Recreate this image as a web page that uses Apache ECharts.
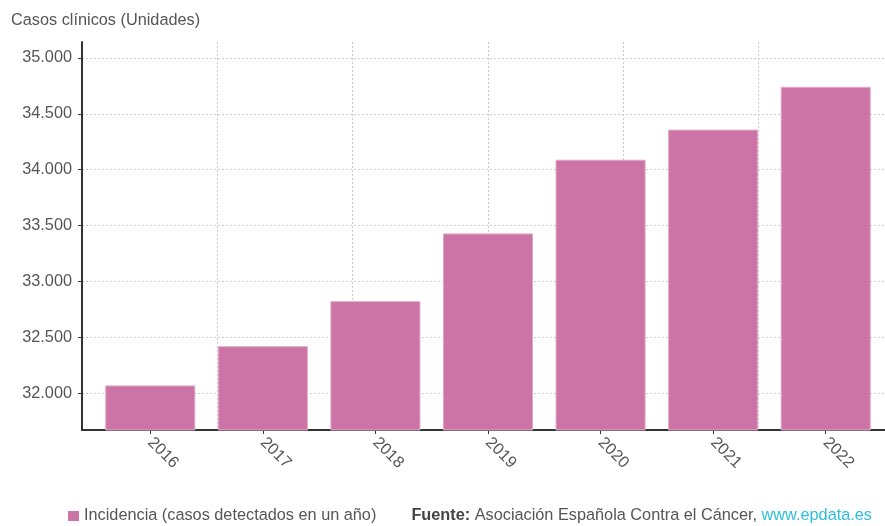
<!DOCTYPE html>
<html>
<head>
<meta charset="utf-8">
<script src="https://cdn.jsdelivr.net/npm/echarts@6/dist/echarts.min.js"></script>
<style>
  html, body { margin: 0; padding: 0; background: #fff; }
  #chart { width: 885px; height: 526px; }
</style>
</head>
<body>
<div id="chart"></div>
<script>
// data
const years = ['2016', '2017', '2018', '2019', '2020', '2021', '2022'];
const cases = [32070, 32421, 32824, 33430, 34090, 34359, 34742];
const yMin = 31671;
const yMax = 35143;

const FONT = 'Liberation Sans, Arial, sans-serif';
const FS = 16.3;
const TEXT = '#555';
const PINK = '#cb74a5';

const fmt = v => String(Math.round(v)).replace(/\B(?=(\d{3})+(?!\d))/g, '.');

const chart = echarts.init(document.getElementById('chart'), null, { renderer: 'canvas' });

const option = {
    animation: false,
    textStyle: { fontFamily: FONT },
    title: {
        text: 'Casos clínicos (Unidades)',
        left: 6,
        top: 8,
        textStyle: { color: TEXT, fontSize: FS, fontWeight: 'normal', fontFamily: FONT }
    },
    grid: [
        // data grid (bars)
        { left: 94, right: 3, top: 42, bottom: 96 },
        // frame grid (axis lines, grid lines, y labels)
        { left: 82, right: 0, top: 42, bottom: 96 }
    ],
    xAxis: [
        {
            type: 'category',
            gridIndex: 0,
            data: years,
            axisLine: { show: false },
            axisTick: { show: true, alignWithLabel: true, length: 4, lineStyle: { color: '#333' } },
            axisLabel: { rotate: -45, margin: 10, color: TEXT, fontSize: FS, fontFamily: FONT },
            splitLine: { show: false }
        },
        {
            type: 'value',
            gridIndex: 1,
            min: 0,
            max: 803,
            interval: 135.25,
            axisLine: { show: true, lineStyle: { color: '#333', width: 2 } },
            axisTick: { show: false },
            axisLabel: { show: false },
            splitLine: {
                show: true,
                showMinLine: false,
                showMaxLine: false,
                lineStyle: { color: '#ccc', type: [2, 2], width: 1 }
            }
        }
    ],
    yAxis: [
        {
            type: 'value',
            gridIndex: 0,
            min: yMin,
            max: yMax,
            show: false
        },
        {
            type: 'value',
            gridIndex: 1,
            min: yMin,
            max: yMax,
            splitNumber: 7,
            axisLine: { show: true, lineStyle: { color: '#333', width: 2 } },
            axisTick: { show: true, length: 4, lineStyle: { color: '#333' } },
            axisLabel: {
                color: TEXT, fontSize: FS, fontFamily: FONT, margin: 10,
                showMinLabel: false, showMaxLabel: false,
                formatter: fmt
            },
            splitLine: {
                show: true,
                showMinLine: false,
                showMaxLine: false,
                lineStyle: { color: '#ccc', type: [2, 2], width: 1 }
            }
        }
    ],
    legend: {
        left: 68,
        top: 508,
        padding: 0,
        icon: 'rect',
        itemWidth: 11,
        itemHeight: 10,
        itemGap: 10,
        itemStyle: { borderWidth: 0 },
        textStyle: { color: TEXT, fontSize: FS, fontFamily: FONT },
        data: ['Incidencia (casos detectados en un año)']
    },
    graphic: [
        {
            type: 'text',
            right: 13,
            top: 508,
            style: {
                text: '{b|Fuente:} Asociación Española Contra el Cáncer, {l|www.epdata.es}',
                fill: TEXT,
                font: FS + 'px ' + FONT,
                rich: {
                    b: { fontWeight: 'bold', fontSize: FS, fontFamily: FONT, fill: '#444' },
                    l: { fontSize: FS, fontFamily: FONT, fill: '#2bbfdc' }
                }
            }
        }
    ],
    series: [
        {
            name: 'Incidencia (casos detectados en un año)',
            type: 'bar',
            xAxisIndex: 0,
            yAxisIndex: 0,
            data: cases,
            barCategoryGap: '20%',
            itemStyle: { color: PINK, borderColor: '#e2a9c9', borderWidth: 1 }
        }
    ]
};

chart.setOption(option);
</script>
</body>
</html>
